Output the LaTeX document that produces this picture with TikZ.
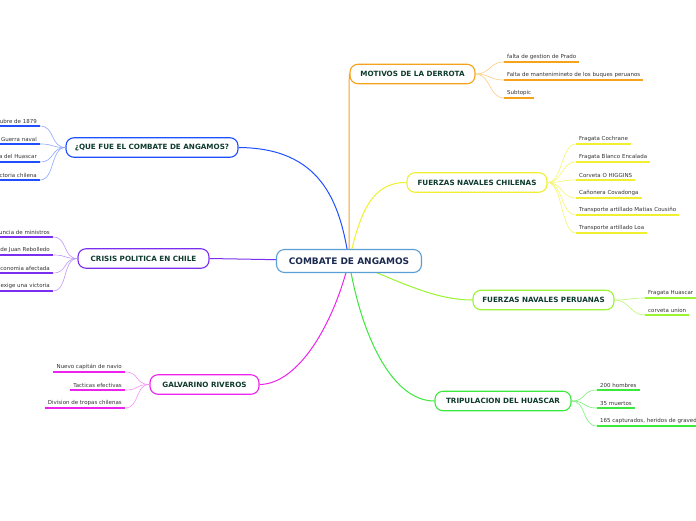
\documentclass[tikz,border=0pt]{standalone}
\usepackage{fontspec}
\setmainfont{DejaVu Sans}
\definecolor{rootline}{HTML}{5A9FD6}
\definecolor{roottext}{HTML}{1B2A4E}
\definecolor{topictext}{HTML}{0E3B2E}
\definecolor{leaftext}{HTML}{333333}
\definecolor{cblue}{HTML}{1F4FFF}
\definecolor{cpurple}{HTML}{7A2FF0}
\definecolor{cmagenta}{HTML}{EE22EE}
\definecolor{corange}{HTML}{F7A21B}
\definecolor{cyellow}{HTML}{F0F030}
\definecolor{clime}{HTML}{99F531}
\definecolor{cgreen}{HTML}{3BE83B}
\pgfdeclarelayer{bg}
\pgfsetlayers{bg,main}

\begin{document}
\begin{tikzpicture}[x=1pt,y=-1pt,
	topic/.style={draw,fill=white,line width=1.1pt,rounded corners=8pt,minimum height=19.5pt,inner xsep=0pt,text=topictext,font=\fontsize{7.2}{8}\selectfont\bfseries},
	leaf/.style={inner xsep=3pt,inner ysep=2.6pt,text=leaftext,font=\fontsize{5.5}{6}\selectfont},
	uline/.style={line width=1.4pt},
	twig/.style={line width=0.6pt}]
	\useasboundingbox (0,0) rectangle (696,520);
	\clip (0,0) rectangle (696,520);
	% main topics
	\node[topic,draw=rootline,text=roottext,minimum width=145pt,minimum height=23pt,font=\fontsize{9}{10}\selectfont\bfseries] (root) at (349,261) {COMBATE DE ANGAMOS};
	\node[topic,draw=corange,minimum width=125pt] (motivos) at (412.5,74) {MOTIVOS DE LA DERROTA};
	\node[topic,draw=cyellow,minimum width=140pt] (chilenas) at (477,182.5) {FUERZAS NAVALES CHILENAS};
	\node[topic,draw=clime,minimum width=141pt] (peruanas) at (543.5,300) {FUERZAS NAVALES PERUANAS};
	\node[topic,draw=cgreen,minimum width=136pt] (tripulacion) at (503,401) {TRIPULACION DEL HUASCAR};
	\node[topic,draw=cblue,minimum width=172pt] (quefue) at (152,147.5) {¿QUE FUE EL COMBATE DE ANGAMOS?};
	\node[topic,draw=cpurple,minimum width=131pt] (crisis) at (143.5,258.5) {CRISIS POLITICA EN CHILE};
	\node[topic,draw=cmagenta,minimum width=109pt] (galvarino) at (204.5,384.5) {GALVARINO RIVEROS};
	% branches from the root
	\begin{pgfonlayer}{bg}
		\draw[line width=1pt,cblue] (root.center) .. controls (340,200) and (320,148) .. (quefue.east);
		\draw[line width=1pt,corange] (root.center) .. controls (349,120) and (349,74) .. (motivos.west);
		\draw[line width=1pt,cyellow] (root.center) .. controls (360,212) and (372,182) .. (chilenas.west);
		\draw[line width=1pt,clime] (root.center) .. controls (400,282) and (435,300) .. (peruanas.west);
		\draw[line width=1pt,cgreen] (root.center) .. controls (360,330) and (390,401) .. (tripulacion.west);
		\draw[line width=1pt,cmagenta] (root.center) .. controls (335,320) and (300,384) .. (galvarino.east);
		\draw[line width=1pt,cpurple] (root.center) -- (crisis.east);
	\end{pgfonlayer}
	% motivos
	\node[leaf,anchor=south west] (mot1) at (504,62) {falta de gestion de Prado};
	\node[leaf,anchor=south west] (mot2) at (504,80) {Falta de mantenimineto de los buques peruanos};
	\node[leaf,anchor=south west] (mot3) at (504,98) {Subtopic};
	\foreach \n in {mot1,mot2,mot3} {
		\draw[uline,corange] (\n.south west) -- (\n.south east);
		\draw[twig,corange!55] (motivos.east) .. controls +(15,0) and +(-15,0) .. (\n.south west);
	}
	% fuerzas chilenas
	\node[leaf,anchor=south west] (chi1) at (576,144) {Fragata Cochrane};
	\node[leaf,anchor=south west] (chi2) at (576,162) {Fragata Blanco Encalada};
	\node[leaf,anchor=south west] (chi3) at (576,180) {Corveta O HIGGINS};
	\node[leaf,anchor=south west] (chi4) at (576,198) {Cañonera Covadonga};
	\node[leaf,anchor=south west] (chi5) at (576,215) {Transporte artillado Matias Cousiño};
	\node[leaf,anchor=south west] (chi6) at (576,233) {Transporte artillado Loa};
	\foreach \n in {chi1,chi2,chi3,chi4,chi5,chi6} {
		\draw[uline,cyellow] (\n.south west) -- (\n.south east);
		\draw[twig,cyellow!70] (chilenas.east) .. controls +(15,0) and +(-15,0) .. (\n.south west);
	}
	% fuerzas peruanas
	\node[leaf,anchor=south west] (per1) at (645,298) {Fragata Huascar};
	\node[leaf,anchor=south west] (per2) at (645,315) {corveta union};
	\foreach \n in {per1,per2} {
		\draw[uline,clime] (\n.south west) -- (\n.south east);
		\draw[twig,clime!70] (peruanas.east) .. controls +(15,0) and +(-15,0) .. (\n.south west);
	}
	% tripulacion
	\node[leaf,anchor=south west] (tri1) at (597,390) {200 hombres};
	\node[leaf,anchor=south west] (tri2) at (597,408) {35 muertos};
	\node[leaf,anchor=south west] (tri3) at (597,426) {165 capturados, heridos de gravedad};
	\foreach \n in {tri1,tri2,tri3} {
		\draw[uline,cgreen] (\n.south west) -- (\n.south east);
		\draw[twig,cgreen!70] (tripulacion.east) .. controls +(15,0) and +(-15,0) .. (\n.south west);
	}
	% que fue
	\node[leaf,anchor=south east] (que1) at (40,126) {8 de octubre de 1879};
	\node[leaf,anchor=south east] (que2) at (40,144) {Guerra naval};
	\node[leaf,anchor=south east] (que3) at (40,162) {Captura del Huascar};
	\node[leaf,anchor=south east] (que4) at (40,180) {Victoria chilena};
	\foreach \n in {que1,que2,que3,que4} {
		\draw[uline,cblue] (\n.south west) -- (\n.south east);
		\draw[twig,cblue!50] (quefue.west) .. controls +(-15,0) and +(15,0) .. (\n.south east);
	}
	% crisis
	\node[leaf,anchor=south east] (cri1) at (53,237) {Renuncia de ministros};
	\node[leaf,anchor=south east] (cri2) at (53,255) {Renuncia de Juan Rebolledo};
	\node[leaf,anchor=south east] (cri3) at (53,273) {Economia afectada};
	\node[leaf,anchor=south east] (cri4) at (53,291) {Pueblo exige una victoria};
	\foreach \n in {cri1,cri2,cri3,cri4} {
		\draw[uline,cpurple] (\n.south west) -- (\n.south east);
		\draw[twig,cpurple!50] (crisis.west) .. controls +(-15,0) and +(15,0) .. (\n.south east);
	}
	% galvarino
	\node[leaf,anchor=south east] (gal1) at (125,372) {Nuevo capitán de navio};
	\node[leaf,anchor=south east] (gal2) at (125,390) {Tacticas efectivas};
	\node[leaf,anchor=south east] (gal3) at (125,408) {Division de tropas chilenas};
	\foreach \n in {gal1,gal2,gal3} {
		\draw[uline,cmagenta] (\n.south west) -- (\n.south east);
		\draw[twig,cmagenta!50] (galvarino.west) .. controls +(-15,0) and +(15,0) .. (\n.south east);
	}
\end{tikzpicture}
\end{document}
